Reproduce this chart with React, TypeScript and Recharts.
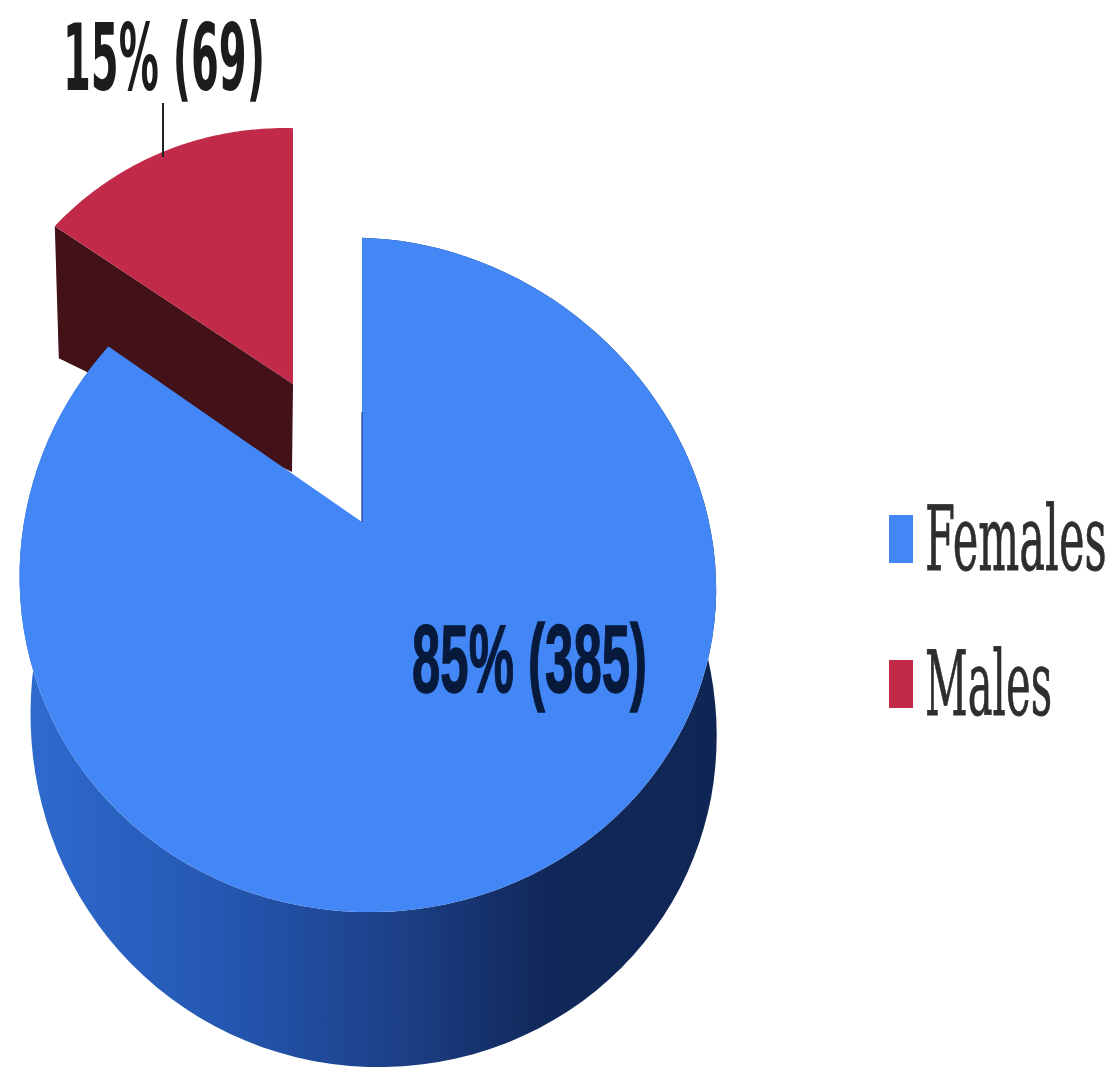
import { PieChart, Pie, Legend } from "recharts";

// Survey split drawn as a 3D pie with a pulled-out slice.
const genders = ["Males", "Females"];
const counts = [69, 385];
const topColors = ["#c22a4a", "#4287f5"];

const WIDTH = 1114;
const HEIGHT = 1068;
const CX = 362;
const CY = 522;
const RADIUS = 344;

// the slices run clockwise; Females has to start at 12 o'clock
const total = counts.reduce((a, b) => a + b, 0);
const START = 90 + (360 * counts[0]) / total;

const pieData = genders.map((name, i) => ({ name, value: counts[i], fill: topColors[i] }));

const RAD = Math.PI / 180;

// Perspective mapping from the flat disc to the tilted one on screen
function project(cw: number, r: number, cx: number, cy: number, R: number) {
  const u = r * Math.sin(cw * RAD);
  const v = r * Math.cos(cw * RAD);
  const k = 0.157;
  const w = 1 + k * v;
  return {
    x: cx + (R * u) / w + 6 * u * u,
    y: cy - (R * 0.956 * v) / w + (16 * u * (1 + u)) / 2,
    v,
  };
}

function toPath(pts: { x: number; y: number }[]) {
  return pts.map((p, i) => `${i ? "L" : "M"}${p.x.toFixed(1)} ${p.y.toFixed(1)}`).join(" ") + " Z";
}

function rim(a0: number, a1: number, cx: number, cy: number, R: number) {
  const out = [];
  for (let i = 0; i <= 120; i++) out.push(project(a0 + ((a1 - a0) * i) / 120, 1, cx, cy, R));
  return out;
}

function MaleSlice({ startAngle, endAngle, cx, cy, outerRadius, fill }: any) {
  const a0 = 90 - startAngle;
  const a1 = 90 - endAngle;
  // pulled out towards the back and drawn a little smaller
  const ax = cx - 69;
  const ay = cy - 138;
  const pts = rim(a0, a1, 0, 0, outerRadius).map((p) => ({ x: ax + p.x * 0.94, y: ay + p.y * 0.9 }));
  const corner = pts[0];
  const wall = [
    corner,
    { x: ax, y: ay },
    { x: ax - 1, y: ay + 88 },
    { x: corner.x + 4, y: corner.y + 132 },
  ];
  return (
    <g>
      <path d={toPath(wall)} fill="#421218" />
      <path d={toPath([{ x: ax, y: ay }, ...pts])} fill={fill} />
    </g>
  );
}

function FemaleSlice({ startAngle, endAngle, cx, cy, outerRadius, fill }: any) {
  const a0 = 90 - startAngle;
  const a1 = 90 - endAngle;
  const top = rim(a0, a1, cx, cy, outerRadius);
  // lower rim: shifted down and pulled in slightly, the sides converge
  const bottom = top.map((p) => ({
    x: 372 + (p.x + 10 * (1 - p.v) * 0.5 - 372) * 0.985,
    y: p.y + 140 - 15 * p.v,
  }));
  return (
    <g>
      <path d={toPath([...top, ...bottom.reverse()])} fill="url(#pieWall)" />
      <path d={toPath([{ x: cx, y: cy }, ...top])} fill={fill} />
      <line x1={cx} x2={cx} y1={cy - 110} y2={cy} stroke="#1c3f85" strokeWidth={1.2} />
    </g>
  );
}

function SliceShape(props: any) {
  return props.name === "Males" ? <MaleSlice {...props} /> : <FemaleSlice {...props} />;
}

function SliceLabel({ name, value, percent }: any) {
  const text = `${Math.round(percent * 100)}% (${value})`;
  if (name === "Males") {
    return (
      <g>
        <line x1={163} x2={163} y1={103} y2={157} stroke="#222" strokeWidth={2} />
        <text x={63} y={90} fontFamily="DejaVu Sans" fontWeight="bold" fontSize={93} fill="#1c1c1c" textLength={202} lengthAdjust="spacingAndGlyphs">
          {text}
        </text>
      </g>
    );
  }
  return (
    <text
      x={412}
      y={692}
      fontFamily="Liberation Sans"
      fontWeight="bold"
      fontSize={96}
      fill="#071a3c"
      stroke="#071a3c"
      strokeWidth={1.5}
      textLength={235}
      lengthAdjust="spacingAndGlyphs"
    >
      {text}
    </text>
  );
}

// horizontal squeeze of the legend type
const legendScale: Record<string, number> = { Females: 0.486, Males: 0.469 };

function GenderLegend({ payload }: any) {
  const items = payload ?? [];
  return (
    <svg width={225} height={270} style={{ display: "block" }}>
      {items.map((item: any, i: number) => (
        <g key={item.value} transform={`translate(0, ${40 + i * 145})`}>
          <rect x={0} y={10} width={24} height={48} fill={item.color} />
          <text
            transform={`translate(36, 65) scale(${legendScale[item.value]}, 1)`}
            fontFamily="DejaVu Serif"
            fontSize={89}
            fill="#2e2e2e"
            stroke="#2e2e2e"
            strokeWidth={0.8}
          >
            {item.value}
          </text>
        </g>
      ))}
    </svg>
  );
}

export default function App() {
  return (
    <div style={{ position: "absolute", left: 0, top: 0, width: WIDTH, height: HEIGHT, background: "#fff" }}>
      <PieChart width={WIDTH} height={HEIGHT} margin={{ top: 0, right: 0, bottom: 0, left: 0 }}>
        <defs>
          <linearGradient id="pieWall" gradientUnits="userSpaceOnUse" x1={20} x2={720} y1={0} y2={0}>
            <stop offset="0%" stopColor="#2f6bd0" />
            <stop offset="30%" stopColor="#2456b0" />
            <stop offset="55%" stopColor="#1c3f85" />
            <stop offset="75%" stopColor="#11285a" />
            <stop offset="100%" stopColor="#0f2655" />
          </linearGradient>
        </defs>
        <Pie
          data={pieData}
          dataKey="value"
          nameKey="name"
          cx={CX}
          cy={CY}
          innerRadius={0}
          outerRadius={RADIUS}
          startAngle={START}
          endAngle={START - 360}
          stroke="none"
          shape={SliceShape}
          inactiveShape={SliceShape}
          label={SliceLabel}
          labelLine={false}
          isAnimationActive={false}
        />
        <Legend
          content={GenderLegend}
          wrapperStyle={{ position: "absolute", left: 889, top: 465, width: 225, height: 270 }}
        />
      </PieChart>
    </div>
  );
}
